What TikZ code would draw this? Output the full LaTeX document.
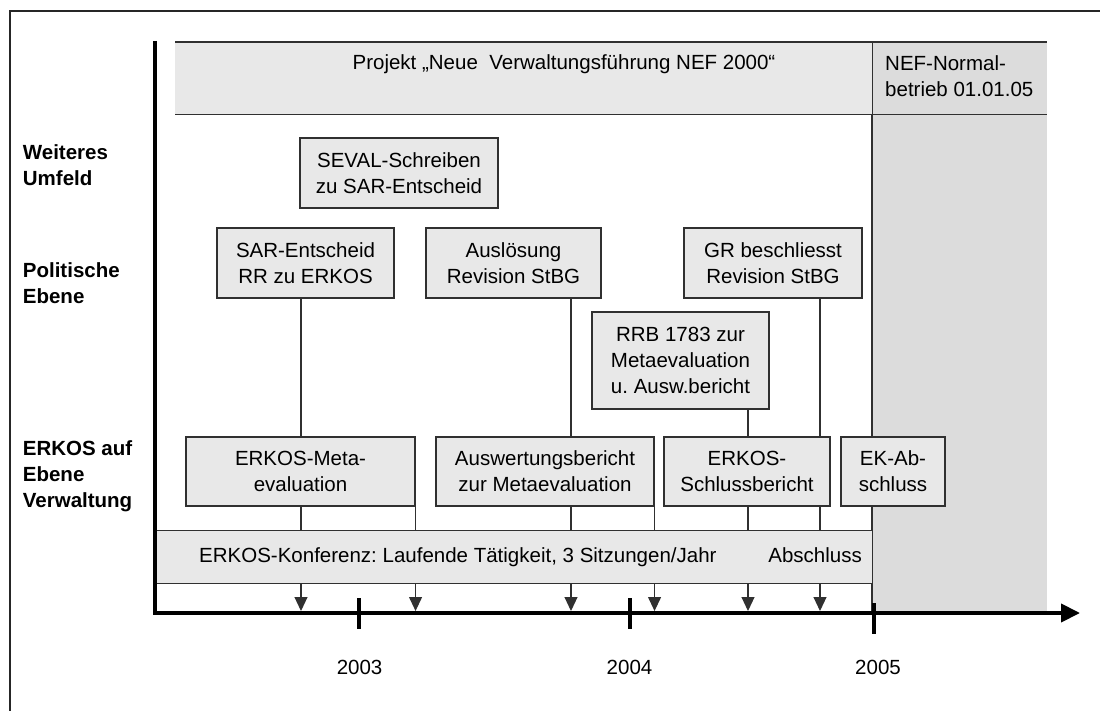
\documentclass[tikz,border=0pt]{standalone}
\usepackage{fontspec}
\setmainfont{Liberation Sans}
\usetikzlibrary{arrows.meta,calc}
\definecolor{bandgray}{HTML}{E8E8E8}
\definecolor{zonegray}{HTML}{DCDCDC}
\definecolor{edge}{HTML}{303030}
\frenchspacing
\begin{document}
\begin{tikzpicture}[x=1pt,y=-1pt,
  txt/.style={font=\fontsize{20.5}{26}\selectfont, inner sep=0pt},
  event/.style={draw=edge, line width=1.1pt, fill=bandgray, align=center,
    inner sep=0pt, font=\fontsize{20.5}{26}\selectfont},
  conn/.style={draw=edge, line width=1.1pt},
  arr/.style={conn, -{Triangle[length=14pt,width=13pt]}},
  axisline/.style={line width=4pt, black, line join=miter},
  tickmark/.style={line width=4pt, black},
  level/.style={font=\bfseries\fontsize{20.5}{26}\selectfont, anchor=base west, inner sep=0pt},
  band/.style={inner sep=0pt, anchor=north west},
]
\useasboundingbox (0,0) rectangle (1100,711);

% outer frame
\draw[line width=1.5pt, black!85] (10,711) -- (10,11) -- (1100,11);

% axis reference points
\coordinate (axtopend) at (155,41);
\coordinate (origin) at (155,613);
\coordinate (axend) at (1080,613);
\coordinate (axtop) at (155,611);

% project phases
\node[band, fill=bandgray, minimum width=697pt, minimum height=72pt] (projband) at (175,42) {};
\node[band, fill=zonegray, minimum width=175pt, minimum height=72pt] (nefband) at (872,42) {};
\fill[zonegray] (nefband.south west) rectangle (nefband.south east |- origin);
\draw[conn, line width=1.3pt] (projband.north west) -- (nefband.north east);
\draw[conn, line width=1.3pt] (projband.south west) -- (nefband.south east);
\draw[conn] (projband.north east) -- (projband.south east);
\draw[conn] (nefband.south west) -- (nefband.south west |- origin);

\node[txt, anchor=base] (proj) at (564,70) {Projekt „Neue\ \ Verwaltungsführung NEF 2000“};
\node[txt, anchor=base west] (nef) at (885,71)
  {\begin{tabular}[t]{@{}l@{}}NEF-Normal-\\betrieb 01.01.05\end{tabular}};

% level labels
\node[level] (lumfeld) at (22.7,160) {\begin{tabular}[t]{@{}l@{}}Weiteres\\Umfeld\end{tabular}};
\node[level] (lpolitik) at (22.7,278) {\begin{tabular}[t]{@{}l@{}}Politische\\Ebene\end{tabular}};
\node[level] (lverw) at (22.7,455) {\begin{tabular}[t]{@{}l@{}}ERKOS auf\\Ebene\\Verwaltung\end{tabular}};

% conference band
\node[band, fill=bandgray, draw=edge, line width=1.1pt, minimum width=717pt, minimum height=53pt] (konf) at (155,530) {};
\node[txt, anchor=base west] (konftext) at (199,562) {ERKOS-Konferenz: Laufende Tätigkeit, 3 Sitzungen/Jahr};
\node[txt, anchor=base east] (konfend) at (862,562) {Abschluss};

% events
\node[event, minimum width=198pt, minimum height=70pt] (seval) at (399,173) {SEVAL-Schreiben\\zu SAR-Entscheid};
\node[event, minimum width=177pt, minimum height=70pt] (sar) at (305.5,263) {SAR-Entscheid\\RR zu ERKOS};
\node[event, minimum width=175pt, minimum height=70pt] (ausl) at (513.5,263) {Auslösung\\Revision StBG};
\node[event, minimum width=178pt, minimum height=70pt] (gr) at (773,263) {GR beschliesst\\Revision StBG};
\node[event, minimum width=177pt, minimum height=97pt] (rrb) at (680.5,360.5) {RRB 1783 zur\\Metaevaluation\\u.\ Ausw.bericht};
\node[event, minimum width=229pt, minimum height=69pt] (meta) at (300.5,471.5) {ERKOS-Meta-\\evaluation};
\node[event, minimum width=218pt, minimum height=69pt] (ausw) at (545,471.5) {Auswertungsbericht\\zur Metaevaluation};
\node[event, minimum width=166pt, minimum height=69pt] (schluss) at (747,471.5) {ERKOS-\\Schlussbericht};
\node[event, minimum width=104pt, minimum height=69pt] (ekab) at (893,471.5) {EK-Ab-\\schluss};

% connector columns
\coordinate (xa) at (301,0);
\coordinate (xc) at (571,0);
\coordinate (xe) at (748,0);
\coordinate (xf) at (820,0);

\draw[conn] (sar.south -| xa) -- (meta.north -| xa);
\draw[conn] (meta.south -| xa) -- (konf.north -| xa);
\draw[arr] (konf.south -| xa) -- (axtop -| xa);

\draw[conn] (meta.south east) -- (konf.north -| meta.south east);
\draw[arr] (konf.south -| meta.south east) -- (axtop -| meta.south east);

\draw[conn] (ausl.south -| xc) -- (ausw.north -| xc);
\draw[conn] (ausw.south -| xc) -- (konf.north -| xc);
\draw[arr] (konf.south -| xc) -- (axtop -| xc);

\draw[conn] (ausw.south east) -- (konf.north -| ausw.south east);
\draw[arr] (konf.south -| ausw.south east) -- (axtop -| ausw.south east);

\draw[conn] (rrb.south -| xe) -- (schluss.north -| xe);
\draw[conn] (schluss.south -| xe) -- (konf.north -| xe);
\draw[arr] (konf.south -| xe) -- (axtop -| xe);

\draw[conn] (gr.south -| xf) -- (schluss.north -| xf);
\draw[conn] (schluss.south -| xf) -- (konf.north -| xf);
\draw[arr] (konf.south -| xf) -- (axtop -| xf);

% time axis
\draw[axisline, -{Triangle[length=19pt,width=18pt]}] (axtopend) |- (axend);
\coordinate (t2003) at (358.7,613);
\coordinate (t2004) at (630,613);
\coordinate (t2005) at (873.5,613);
\draw[tickmark] ($(t2003)+(0,-15)$) -- ($(t2003)+(0,16)$);
\draw[tickmark] ($(t2004)+(0,-15)$) -- ($(t2004)+(0,16)$);
\draw[tickmark] ($(t2005)+(0,-10)$) -- ($(t2005)+(0,21)$);
\node[txt, anchor=base] (y2003) at (359.6,674) {2003};
\node[txt, anchor=base] (y2004) at (629.5,674) {2004};
\node[txt, anchor=base] (y2005) at (878,674) {2005};
\end{tikzpicture}
\end{document}
